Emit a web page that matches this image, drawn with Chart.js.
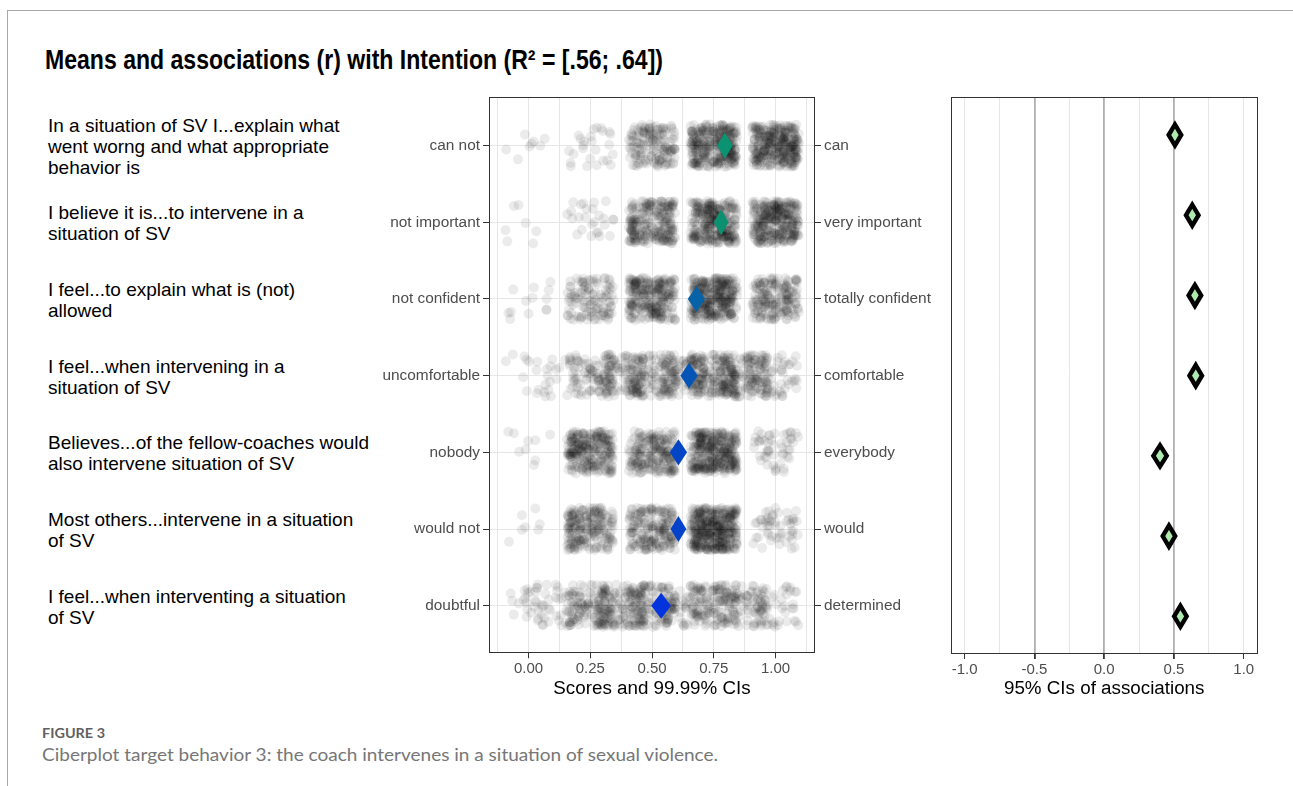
<!DOCTYPE html>
<html><head><meta charset="utf-8">
<script src="https://cdn.jsdelivr.net/npm/chart.js@4"></script>
<style>
html,body{margin:0;padding:0;background:#fff;}
body{width:1293px;height:786px;position:relative;overflow:hidden;font-family:"Liberation Sans",Arial,sans-serif;}
#frame{position:absolute;left:7px;top:10px;width:1290px;height:780px;border-top:1px solid #a8a8a8;border-left:1px solid #a8a8a8;}
.t{position:absolute;white-space:pre;transform-origin:0 0;}
canvas{position:absolute;}
</style></head><body>
<div id="frame"></div>
<div id="title" class="t">Means and associations (r) with Intention (R² = [.56; .64])</div>
<div id="items"></div>
<canvas id="c1" width="570" height="620" style="left:370px;top:80px"></canvas>
<canvas id="c2" width="340" height="620" style="left:930px;top:80px"></canvas>
<div id="fig" class="t">FIGURE 3</div>
<div id="cap" class="t">Ciberplot target behavior 3: the coach intervenes in a situation of sexual violence.</div>
<script>
// ---------- data ----------
const itemLabels = [
  ["In a situation of SV I...explain what", "went worng and what appropriate", "behavior is"],
  ["I believe it is...to intervene in a", "situation of SV"],
  ["I feel...to explain what is (not)", "allowed"],
  ["I feel...when intervening in a", "situation of SV"],
  ["Believes...of the fellow-coaches would", "also intervene situation of SV"],
  ["Most others...intervene in a situation", "of SV"],
  ["I feel...when interventing a situation", "of SV"]
];
const leftAnchors = ["can not", "not important", "not confident", "uncomfortable", "nobody", "would not", "doubtful"];
const rightAnchors = ["can", "very important", "totally confident", "comfortable", "everybody", "would", "determined"];
const itemRows = [1, 2, 3, 4, 5, 6, 7];

// answer levels (scores) and estimated number of respondents per level
const levels5 = [0, 0.25, 0.5, 0.75, 1];
const levels9 = [0, 0.125, 0.25, 0.375, 0.5, 0.625, 0.75, 0.875, 1];
const countsCan = [8, 26, 156, 312, 330];
const countsImportant = [7, 26, 240, 292, 312];
const countsConfident = [13, 117, 260, 312, 182];
const countsComfortable = [11, 20, 78, 117, 98, 110, 156, 136, 65];
const countsEverybody = [9, 253, 208, 330, 50];
const countsWould = [7, 208, 195, 396, 52];
const countsDetermined = [28, 36, 117, 124, 117, 65, 117, 75, 48];
const countsByItem = [countsCan, countsImportant, countsConfident, countsComfortable, countsEverybody, countsWould, countsDetermined];
const levelsByItem = [levels5, levels5, levels5, levels9, levels5, levels5, levels9];

// means with 99.99% CIs
const meanScore = [0.795, 0.780, 0.680, 0.650, 0.607, 0.607, 0.537];
const meanLow   = [0.763, 0.750, 0.645, 0.615, 0.572, 0.575, 0.497];
const meanHigh  = [0.827, 0.810, 0.715, 0.685, 0.642, 0.639, 0.577];

// associations (r) with 95% CIs
const assocR    = [0.507, 0.631, 0.650, 0.656, 0.400, 0.464, 0.546];
const assocLow  = [0.462, 0.586, 0.605, 0.611, 0.352, 0.419, 0.501];
const assocHigh = [0.552, 0.676, 0.695, 0.701, 0.448, 0.509, 0.591];

// axis ticks
const scoreGridTicks = [-0.125, 0, 0.125, 0.25, 0.375, 0.5, 0.625, 0.75, 0.875, 1, 1.125];
const scoreLabelTicks = [0, 0.25, 0.5, 0.75, 1];
const rGridTicks = [-1, -0.75, -0.5, -0.25, 0, 0.25, 0.5, 0.75, 1];
const rLabelTicks = [-1, -0.5, 0, 0.5, 1];
const rRefLines = [-0.5, 0, 0.5];

// ---------- styles ----------
const meanColors = ['#0b9270', '#0b9070', '#0862a8', '#0555b6', '#0445c6', '#0443c9', '#0333dc'];
const FAMILY = '"Liberation Sans", Arial, sans-serif';
Chart.defaults.font.family = FAMILY;
const gridGrey = '#e6e6e6';
const tickGrey = '#4d4d4d';
const dotFill = 'rgba(0,0,0,0.08)';

// jitter layout of the response dots inside each answer cell (fixed, repeatable scatter)
const JW = 0.094, JH = 0.277;
function jitterOffset(k) { const s = Math.sin(k * 12.9898 + 78.233) * 43758.5453; return s - Math.floor(s); }
let seq = 0;
const cloud = [];
countsByItem.forEach((cnts, i) => {
  const lv = levelsByItem[i];
  cnts.forEach((n, j) => {
    for (let k = 0; k < n; k++) {
      seq++;
      const u = jitterOffset(2 * seq), v = jitterOffset(2 * seq + 1);
      cloud.push({x: lv[j] + (2 * u - 1) * JW, y: itemRows[i] + (2 * v - 1) * JH});
    }
  });
});

// ---------- plugins ----------
const panelBorder = {
  id: 'panelBorder',
  afterDraw(chart) {
    const a = chart.chartArea, ctx = chart.ctx;
    ctx.save();
    ctx.strokeStyle = '#333';
    ctx.lineWidth = 1;
    ctx.strokeRect(Math.round(a.left) + 0.5, Math.round(a.top) + 0.5, Math.round(a.right - a.left) - 1, Math.round(a.bottom - a.top) - 1);
    ctx.restore();
  }
};
function makeDiamonds(id, center, low, high, rows, halfH, fill, stroke, lw) {
  return {
    id,
    afterDatasetsDraw(chart) {
      const ctx = chart.ctx, xs = chart.scales.x, ys = chart.scales.y;
      ctx.save();
      center.forEach((m, i) => {
        const yc = ys.getPixelForValue(rows[i]);
        const yt = ys.getPixelForValue(rows[i] - halfH);
        const yb = ys.getPixelForValue(rows[i] + halfH);
        ctx.beginPath();
        ctx.moveTo(xs.getPixelForValue(low[i]), yc);
        ctx.lineTo(xs.getPixelForValue(m), yt);
        ctx.lineTo(xs.getPixelForValue(high[i]), yc);
        ctx.lineTo(xs.getPixelForValue(m), yb);
        ctx.closePath();
        ctx.fillStyle = Array.isArray(fill) ? fill[i] : fill;
        ctx.fill();
        if (lw) {
          ctx.lineWidth = lw; ctx.strokeStyle = stroke; ctx.lineJoin = 'miter'; ctx.miterLimit = 10;
          ctx.stroke();
        }
      });
      ctx.restore();
    }
  };
}
const zeroPad = s => { s.paddingTop = 0; s.paddingBottom = 0; s.paddingLeft = 0; s.paddingRight = 0; };

// ---------- chart 1: scores ----------
const chart1 = new Chart(document.getElementById('c1'), {
  type: 'scatter',
  data: {datasets: [{data: cloud, pointRadius: 5, pointHoverRadius: 5, pointBackgroundColor: dotFill,
    backgroundColor: dotFill, pointBorderWidth: 0, borderWidth: 0}]},
  options: {
    responsive: false, animation: false, events: [],
    layout: {padding: {top: 17.3, left: 0, right: 0, bottom: 0}},
    plugins: {legend: {display: false}, tooltip: {enabled: false}},
    scales: {
      x: {type: 'linear', min: -0.16, max: 1.16,
        afterBuildTicks: s => { s.ticks = scoreGridTicks.map(v => ({value: v})); },
        afterFit: s => { s.height = 46.7; zeroPad(s); },
        ticks: {autoSkip: false, maxRotation: 0, padding: 2, color: tickGrey, font: {size: 15},
          callback: v => scoreLabelTicks.includes(v) ? v.toFixed(2) : ''},
        grid: {color: gridGrey, lineWidth: 1, tickLength: 5,
          tickColor: c => (c.tick && scoreLabelTicks.includes(c.tick.value)) ? '#333' : 'rgba(0,0,0,0)'},
        border: {display: false},
        title: {display: true, text: 'Scores and 99.99% CIs', color: '#000', font: {size: 18.8}, padding: 0}
      },
      y: {type: 'linear', position: 'left', reverse: true, min: 0.37, max: 7.62,
        afterBuildTicks: s => { s.ticks = itemRows.map(v => ({value: v})); },
        afterFit: s => { s.width = 119; zeroPad(s); },
        ticks: {autoSkip: false, padding: 3, color: tickGrey, font: {size: 15.4}, callback: v => leftAnchors[v - 1]},
        grid: {color: gridGrey, lineWidth: 1, tickLength: 6, tickColor: '#333'},
        border: {display: false}
      },
      y2: {type: 'linear', position: 'right', reverse: true, min: 0.37, max: 7.62,
        afterBuildTicks: s => { s.ticks = itemRows.map(v => ({value: v})); },
        afterFit: s => { s.width = 125; zeroPad(s); },
        ticks: {autoSkip: false, padding: 3, color: tickGrey, font: {size: 15.4}, callback: v => rightAnchors[v - 1]},
        grid: {drawOnChartArea: false, tickLength: 6, tickColor: '#333'},
        border: {display: false}
      }
    }
  },
  plugins: [panelBorder, makeDiamonds('meanDiamonds', meanScore, meanLow, meanHigh, itemRows, 0.17, meanColors, null, 0)]
});

// ---------- chart 2: associations ----------
const chart2 = new Chart(document.getElementById('c2'), {
  type: 'scatter',
  data: {datasets: [{data: assocR.map((r, i) => ({x: r, y: itemRows[i]})), pointRadius: 0, pointHoverRadius: 0}]},
  options: {
    responsive: false, animation: false, events: [],
    layout: {padding: {top: 17.3, left: 20.7, right: 12.3, bottom: 0}},
    plugins: {legend: {display: false}, tooltip: {enabled: false}},
    scales: {
      x: {type: 'linear', min: -1.1, max: 1.1,
        afterBuildTicks: s => { s.ticks = rGridTicks.map(v => ({value: v})); },
        afterFit: s => { s.height = 46; zeroPad(s); },
        ticks: {autoSkip: false, maxRotation: 0, padding: 2, color: tickGrey, font: {size: 15},
          callback: v => rLabelTicks.includes(v) ? v.toFixed(1) : ''},
        grid: {
          color: c => (c.tick && rRefLines.includes(c.tick.value)) ? '#b0b0b0' : gridGrey,
          lineWidth: c => (c.tick && rRefLines.includes(c.tick.value)) ? 1.8 : 1,
          tickLength: 5,
          tickColor: c => (c.tick && rLabelTicks.includes(c.tick.value)) ? '#333' : 'rgba(0,0,0,0)'},
        border: {display: false},
        title: {display: true, text: '95% CIs of associations', color: '#000', font: {size: 18.8}, padding: 0}
      },
      y: {type: 'linear', display: false, reverse: true, min: 0.53, max: 7.47}
    }
  },
  plugins: [panelBorder, makeDiamonds('assocDiamonds', assocR, assocLow, assocHigh, itemRows, 0.131, '#aeeaae', '#000', 4.4)]
});

// ---------- text ----------
function fitWidth(el, w) {
  el.style.transform = 'none';
  const nat = el.getBoundingClientRect().width;
  el.style.transform = 'scaleX(' + (w / nat) + ')';
}
function placeBaseline(el, left, baseline, size) {
  el.style.left = left + 'px';
  el.style.fontSize = size + 'px';
  el.style.lineHeight = size + 'px';
  el.style.top = (baseline - 0.8465 * size) + 'px';
}
const title = document.getElementById('title');
title.style.fontWeight = 'bold';
title.style.color = '#000';
placeBaseline(title, 45, 70, 28);
fitWidth(title, 618);

const itemsBox = document.getElementById('items');
itemLabels.forEach((lines, i) => {
  const d = document.createElement('div');
  d.className = 't';
  d.textContent = lines.join('\n');
  const yc = 80 + chart1.scales.y.getPixelForValue(itemRows[i]);
  d.style.left = '48px';
  d.style.fontSize = '19px';
  d.style.lineHeight = '21px';
  d.style.color = '#000';
  d.style.top = (yc - lines.length * 21 / 2 + 1) + 'px';
  itemsBox.appendChild(d);
});

const fig = document.getElementById('fig');
fig.style.fontFamily = 'Lato, "Open Sans", sans-serif';
fig.style.fontWeight = '700';
fig.style.color = '#5f5f5f';
placeBaseline(fig, 42, 738, 14);
fitWidth(fig, 63);

const cap = document.getElementById('cap');
cap.style.fontFamily = 'Lato, "Open Sans", sans-serif';
cap.style.color = '#767676';
placeBaseline(cap, 42, 760, 18);
fitWidth(cap, 676);
</script>
</body></html>
